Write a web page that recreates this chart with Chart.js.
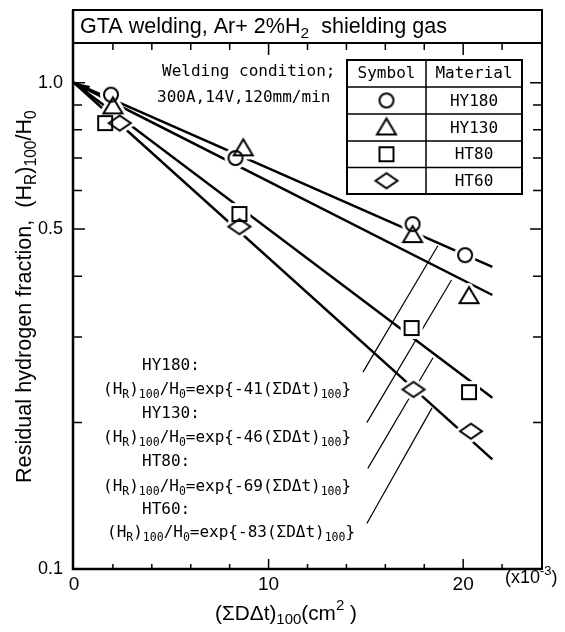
<!DOCTYPE html>
<html>
<head>
<meta charset="utf-8">
<script src="https://cdn.jsdelivr.net/npm/chart.js@4.4.1/dist/chart.umd.min.js"></script>
<style>
  html, body { margin: 0; padding: 0; background: #fff; }
</style>
</head>
<body>
<canvas id="chart" width="565" height="632"></canvas>
<script>
// values, x in units of 1e-3 cm^2
const materials = ['HY180', 'HY130', 'HT80', 'HT60'];
const rates = ['41', '46', '69', '83'];

const hy180X = [1.9, 8.3, 17.4, 20.1];
const hy180Y = [0.945, 0.70, 0.512, 0.442];
const hy130X = [2.0, 8.7, 17.4, 20.3];
const hy130Y = [0.894, 0.733, 0.486, 0.364];
const ht80X = [1.6, 8.5, 17.35, 20.3];
const ht80Y = [0.826, 0.537, 0.313, 0.231];
const ht60X = [2.35, 8.5, 17.45, 20.4];
const ht60Y = [0.826, 0.506, 0.234, 0.192];

// fitted lines, start and end as drawn
const fitX = [0, 21.5];
const hy180Fit = [1.0, 0.418];
const hy130Fit = [1.0, 0.366];
const ht80Fit = [1.0, 0.225];
const ht60Fit = [1.0, 0.168];

// thin leader lines from the equations to the fits
const leaderX = [[14.85, 18.7], [15.05, 19.4], [15.1, 18.45], [15.05, 18.4]];
const leaderY = [[0.254, 0.462], [0.200, 0.393], [0.161, 0.272], [0.124, 0.2145]];

const xTickVals = [0, 10, 20];
const xTickLabels = ['0', '10', '20'];
const xMinor = [2, 4, 6, 8, 12, 14, 16, 18, 22];
const yTickVals = [0.1, 0.5, 1.0];
const yTickLabels = ['0.1', '0.5', '1.0'];
const yMinor = [0.2, 0.3, 0.4, 0.6, 0.7, 0.8, 0.9];

const MONO = '"DejaVu Sans Mono", monospace';
const SANS = '"Liberation Sans", Arial, sans-serif';

// halo=true gives the white patch that breaks the lines round a marker
function makeMarker(shape, halo) {
  const c = document.createElement('canvas');
  c.width = 40; c.height = 40;
  const g = c.getContext('2d');
  g.translate(20, 20);
  g.beginPath();
  if (shape === 'circle') g.arc(0, 0, 7, 0, Math.PI * 2);
  else if (shape === 'triangle') { g.moveTo(0, -9); g.lineTo(9.5, 7); g.lineTo(-9.5, 7); g.closePath(); }
  else if (shape === 'square') g.rect(-7, -7, 14, 14);
  else { g.moveTo(-11, 0); g.lineTo(0, -7.5); g.lineTo(11, 0); g.lineTo(0, 7.5); g.closePath(); }
  if (halo) {
    g.fillStyle = '#fff'; g.fill();
    g.strokeStyle = '#fff'; g.lineWidth = 8; g.lineJoin = 'round'; g.stroke();
  } else {
    g.strokeStyle = '#000'; g.lineWidth = 2; g.stroke();
  }
  return c;
}
const shapes = ['circle', 'triangle', 'square', 'diamond'];
const halos = shapes.map(s => makeMarker(s, true));
const markers = shapes.map(s => makeMarker(s, false));

const toPts = (xs, ys) => xs.map((x, i) => ({ x: x, y: ys[i] }));
const series = [[hy180X, hy180Y], [hy130X, hy130Y], [ht80X, ht80Y], [ht60X, ht60Y]];

const fitSets = [hy180Fit, hy130Fit, ht80Fit, ht60Fit].map(fy => ({
  data: toPts(fitX, fy), showLine: true, borderColor: '#000', borderWidth: 2.5,
  pointRadius: 0, order: 3
}));
const leaderSets = leaderX.map((lx, k) => ({
  data: toPts(lx, leaderY[k]), showLine: true, borderColor: '#000', borderWidth: 1.2,
  pointRadius: 0, order: 3
}));
const haloSets = series.map((s, k) => ({
  data: toPts(s[0], s[1]), showLine: false, pointStyle: halos[k], pointRadius: 10, order: 2
}));
const pointSets = series.map((s, k) => ({
  data: toPts(s[0], s[1]), showLine: false, pointStyle: markers[k], pointRadius: 10, order: 1
}));

// draws text parts: [text, 0 normal | 1 sub | 2 sup]
function rich(ctx, parts, x, y, font, size) {
  ctx.save();
  ctx.textBaseline = 'middle';
  ctx.textAlign = 'left';
  ctx.fillStyle = '#000';
  let cx = x;
  for (const [t, k] of parts) {
    const s = k ? size * 0.72 : size;
    ctx.font = s + 'px ' + font;
    const dy = k === 1 ? size * 0.3 : k === 2 ? -size * 0.38 : 0;
    ctx.fillText(t, cx, y + dy);
    cx += ctx.measureText(t).width;
  }
  ctx.restore();
  return cx - x;
}
function richWidth(ctx, parts, font, size) {
  let w = 0;
  for (const [t, k] of parts) {
    ctx.font = (k ? size * 0.72 : size) + 'px ' + font;
    w += ctx.measureText(t).width;
  }
  return w;
}

const decor = {
  id: 'decor',
  afterDraw(chart) {
    const ctx = chart.ctx;
    const ca = chart.chartArea;
    const xs = chart.scales.x, ys = chart.scales.y;
    ctx.save();
    ctx.strokeStyle = '#000';
    ctx.fillStyle = '#000';

    // frame + title box
    ctx.lineWidth = 2;
    ctx.strokeRect(ca.left - 1, 10, ca.right - ca.left + 2, ca.bottom - 10);
    ctx.beginPath(); ctx.moveTo(ca.left, ca.top); ctx.lineTo(ca.right, ca.top); ctx.stroke();
    ctx.lineWidth = 2.5;
    ctx.beginPath(); ctx.moveTo(ca.left - 1, 10); ctx.lineTo(ca.left - 1, ca.bottom);
    ctx.lineTo(ca.right, ca.bottom); ctx.stroke();

    // ticks, all pointing inward
    ctx.lineWidth = 1.5;
    const tickX = (v, len) => {
      const px = xs.getPixelForValue(v);
      ctx.beginPath();
      ctx.moveTo(px, ca.bottom); ctx.lineTo(px, ca.bottom - len);
      ctx.moveTo(px, ca.top); ctx.lineTo(px, ca.top + len + 2);
      ctx.stroke();
    };
    xMinor.forEach(v => tickX(v, 5));
    xTickVals.slice(1).forEach(v => tickX(v, 10));
    const tickY = (v, len) => {
      const py = ys.getPixelForValue(v);
      ctx.beginPath();
      ctx.moveTo(ca.left, py); ctx.lineTo(ca.left + len, py);
      ctx.moveTo(ca.right, py); ctx.lineTo(ca.right - len, py);
      ctx.stroke();
    };
    yMinor.forEach(v => tickY(v, 8));
    yTickVals.forEach(v => tickY(v, 11));

    // arrow head where the fits meet at (0, 1.0)
    const tx = xs.getPixelForValue(0), ty = ys.getPixelForValue(1.0);
    const ex = xs.getPixelForValue(fitX[1]), ey = ys.getPixelForValue(hy130Fit[1]);
    let dx = ex - tx, dy = ey - ty;
    const dl = Math.hypot(dx, dy); dx /= dl; dy /= dl;
    ctx.beginPath();
    ctx.moveTo(tx, ty);
    ctx.lineTo(tx + dx * 16 - dy * 4.5, ty + dy * 16 + dx * 4.5);
    ctx.lineTo(tx + dx * 16 + dy * 4.5, ty + dy * 16 - dx * 4.5);
    ctx.closePath(); ctx.fill();

    // title
    const titleParts = [['GTA welding, Ar+ 2%H', 0], ['2', 1], ['  shielding gas', 0]];
    const tSize = 18 * 367 / richWidth(ctx, titleParts, SANS, 18);
    rich(ctx, titleParts, 80, 27, SANS, tSize);

    // welding condition
    rich(ctx, [['Welding condition;', 0]], 162, 72, MONO, 16);
    rich(ctx, [['300A,14V,120mm/min', 0]], 157, 98, MONO, 16);

    // symbol table
    const tl = 347, tr = 522, tm = 426;
    const rowsY = [60, 87, 114, 141, 167.5, 194];
    ctx.lineWidth = 2;
    ctx.fillStyle = '#fff';
    ctx.fillRect(tl, rowsY[0], tr - tl, rowsY[5] - rowsY[0]);
    ctx.fillStyle = '#000';
    ctx.strokeRect(tl, rowsY[0], tr - tl, rowsY[5] - rowsY[0]);
    ctx.lineWidth = 1.5;
    ctx.beginPath();
    ctx.moveTo(tm, rowsY[0]); ctx.lineTo(tm, rowsY[5]);
    rowsY.slice(1, 5).forEach(y => { ctx.moveTo(tl, y); ctx.lineTo(tr, y); });
    ctx.stroke();
    ctx.textAlign = 'center';
    ctx.textBaseline = 'middle';
    ctx.font = '16px ' + MONO;
    ctx.fillText('Symbol', (tl + tm) / 2, (rowsY[0] + rowsY[1]) / 2);
    ctx.fillText('Material', (tm + tr) / 2, (rowsY[0] + rowsY[1]) / 2);
    materials.forEach((m, k) => {
      const cy = (rowsY[k + 1] + rowsY[k + 2]) / 2;
      ctx.fillText(m, (tm + tr) / 2, cy + 1);
      const img = markers[k];
      ctx.drawImage(img, (tl + tm) / 2 - img.width / 2, cy - img.height / 2);
    });

    // equations
    const labY = [366, 414, 462, 510];
    const eqY = [390, 438, 487, 533];
    const eqX = [103, 103, 103, 107];
    materials.forEach((m, k) => {
      rich(ctx, [[m + ':', 0]], 142, labY[k], MONO, 16);
      rich(ctx, [['(H', 0], ['R', 1], [')', 0], ['100', 1], ['/H', 0], ['0', 1],
                 ['=exp{-' + rates[k] + '(\u03a3D\u0394t)', 0], ['100', 1], ['}', 0]],
           eqX[k], eqY[k], MONO, 16);
    });

    // x axis extras
    rich(ctx, [['(x10', 0], ['-3', 2], [')', 0]], 505, 578, SANS, 18);
    const xtParts = [['(\u03a3D\u0394t)', 0], ['100', 1], ['(cm', 0], ['2', 2], [' )', 0]];
    const xtSize = 18 * 142 / richWidth(ctx, xtParts, SANS, 18);
    rich(ctx, xtParts, 215, 614, SANS, xtSize);

    // y axis title, rotated
    const ytParts = [['Residual hydrogen fraction,  (H', 0], ['R', 1], [')', 0], ['100', 1], ['/H', 0], ['0', 1]];
    const ytSize = 18 * 373 / richWidth(ctx, ytParts, SANS, 18);
    ctx.translate(25, 483);
    ctx.rotate(-Math.PI / 2);
    rich(ctx, ytParts, 0, 0, SANS, ytSize);
    ctx.restore();
  }
};

new Chart(document.getElementById('chart'), {
  type: 'scatter',
  data: { datasets: [...fitSets, ...leaderSets, ...haloSets, ...pointSets] },
  options: {
    responsive: false,
    animation: false,
    devicePixelRatio: 1,
    layout: { padding: { left: 0, right: 24, top: 43, bottom: 0 } },
    plugins: { legend: { display: false }, tooltip: { enabled: false } },
    scales: {
      x: {
        type: 'linear', min: 0, max: 24,
        grid: { display: false, drawTicks: false },
        border: { display: false },
        afterBuildTicks: s => { s.ticks = xTickVals.map(v => ({ value: v })); },
        afterFit: s => { s.height = 63; },
        ticks: {
          autoSkip: false, maxRotation: 0, padding: 4, color: '#000',
          font: { family: SANS, size: 19 },
          callback: (v) => xTickLabels[xTickVals.indexOf(v)]
        }
      },
      y: {
        type: 'logarithmic', min: 0.1, max: 1.207,
        grid: { display: false, drawTicks: false },
        border: { display: false },
        afterBuildTicks: s => { s.ticks = yTickVals.map(v => ({ value: v })); },
        afterFit: s => { s.width = 74; },
        ticks: {
          autoSkip: false, padding: 11, color: '#000',
          font: { family: SANS, size: 18 },
          callback: (v) => yTickLabels[yTickVals.indexOf(v)]
        }
      }
    }
  },
  plugins: [decor]
});
</script>
</body>
</html>
